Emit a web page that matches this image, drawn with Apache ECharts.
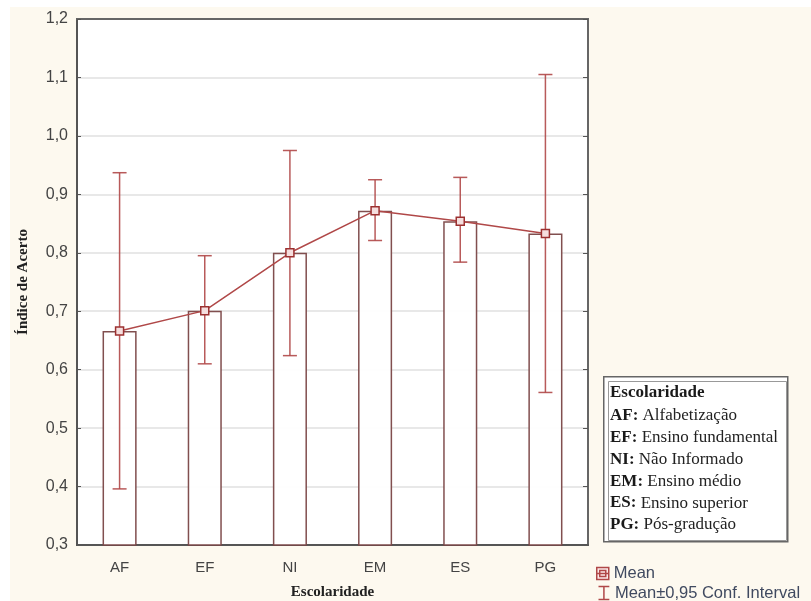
<!DOCTYPE html>
<html>
<head>
<meta charset="utf-8">
<script src="https://cdn.jsdelivr.net/npm/echarts@6/dist/echarts.min.js"></script>
<style>
  html, body { margin: 0; padding: 0; background: #ffffff; }
  #chart { width: 811px; height: 601px; }
</style>
</head>
<body>
<div id="chart"></div>
<script>
// ---- data ----
var categories = ['AF', 'EF', 'NI', 'EM', 'ES', 'PG'];
var means      = [0.666, 0.701, 0.800, 0.872, 0.854, 0.833];
var ciLow      = [0.396, 0.610, 0.624, 0.821, 0.784, 0.561];
var ciHigh     = [0.937, 0.795, 0.975, 0.925, 0.929, 1.105];
var yMin = 0.3, yMax = 1.2, yStep = 0.1;

var legendTitle = 'Escolaridade';
var legendCodes = ['AF', 'EF', 'NI', 'EM', 'ES', 'PG'];
var legendNames = ['Alfabetização', 'Ensino fundamental', 'Não Informado', 'Ensino médio', 'Ensino superior', 'Pós-gradução'];

var meanName = 'Mean';
var ciName = 'Mean±0,95 Conf. Interval';

var RED = '#b04848';
var BAR = '#7a4646';
var SERIF = '"Liberation Serif", "DejaVu Serif", serif';
var SANS = '"Liberation Sans", Arial, sans-serif';

var chart = echarts.init(document.getElementById('chart'));

var ciData = categories.map(function (c, i) {
    return [i, ciLow[i], ciHigh[i]];
});

function renderCI(params, api) {
    var x = api.value(0);
    var lo = api.coord([x, api.value(1)]);
    var hi = api.coord([x, api.value(2)]);
    var half = 7;
    var style = { stroke: RED, lineWidth: 1.5, opacity: 0.9 };
    return {
        type: 'group',
        children: [
            { type: 'line', shape: { x1: hi[0], y1: hi[1], x2: lo[0], y2: lo[1] }, style: style },
            { type: 'line', shape: { x1: hi[0] - half, y1: hi[1], x2: hi[0] + half, y2: hi[1] }, style: style },
            { type: 'line', shape: { x1: lo[0] - half, y1: lo[1], x2: lo[0] + half, y2: lo[1] }, style: style }
        ]
    };
}

// legend box text lines
var boxLines = [{
    type: 'text', left: 610, top: 384,
    style: { text: legendTitle, font: 'bold 17px ' + SERIF, fill: '#1a1a1a' }
}];
legendCodes.forEach(function (code, i) {
    boxLines.push({
        type: 'text', left: 610, top: 407 + i * 21.9,
        style: {
            text: '{b|' + code + ':} ' + legendNames[i],
            font: '17px ' + SERIF,
            fill: '#222',
            rich: { b: { font: 'bold 17px ' + SERIF, fill: '#1a1a1a' } }
        }
    });
});

var legendBase = {
    orient: 'vertical',
    left: 596,
    padding: 0,
    itemWidth: 12,
    itemHeight: 13,
    textStyle: { fontFamily: SANS, fontSize: 16.5, color: '#404a60' }
};

option = {
    backgroundColor: '#fdf9ef',
    animation: false,
    graphic: [
        { type: 'rect', left: 0, top: 0, shape: { width: 811, height: 7 }, style: { fill: '#fff' }, z: -10 },
        { type: 'rect', left: 0, top: 0, shape: { width: 10, height: 601 }, style: { fill: '#fff' }, z: -10 },
        { type: 'rect', left: 603, top: 376, shape: { width: 184, height: 165 },
          style: { fill: '#fff', stroke: '#666', lineWidth: 1.5 } },
        { type: 'rect', left: 606, top: 379, shape: { width: 178, height: 159 },
          style: { fill: 'none', stroke: '#999', lineWidth: 1 } }
    ].concat(boxLines),
    legend: [
        Object.assign({}, legendBase, {
            top: 565,
            data: [{ name: meanName, icon: 'path://M1,1H13V13H1Z M1,7H13 M4,4H10V10H4Z',
                     itemStyle: { color: '#fbe9e9', borderColor: RED, borderWidth: 1.5 } }]
        }),
        Object.assign({}, legendBase, {
            top: 584,
            data: [{ name: ciName, icon: 'path://M2,1H12M7,1V13M2,13H12',
                     itemStyle: { color: 'none', borderColor: RED, borderWidth: 1.5 } }]
        })
    ],
    grid: {
        left: 77,
        top: 19,
        right: 223,
        bottom: 56,
        outerBoundsMode: 'none',
        show: true,
        backgroundColor: '#ffffff',
        borderColor: '#6a6a6a',
        borderWidth: 2
    },
    xAxis: [
        {
            type: 'category',
            data: categories,
            name: 'Escolaridade',
            nameLocation: 'middle',
            nameGap: 40,
            nameTextStyle: { fontFamily: SERIF, fontWeight: 'bold', fontSize: 15, color: '#222' },
            axisLine: { lineStyle: { color: '#555', width: 2 } },
            axisTick: { inside: true, alignWithLabel: true, length: 4, lineStyle: { color: '#555' } },
            axisLabel: { fontFamily: SANS, fontSize: 15, color: '#444', margin: 15 }
        },
        {
            type: 'category',
            data: categories,
            position: 'top',
            axisLine: { lineStyle: { color: '#666', width: 2 } },
            axisTick: { inside: true, alignWithLabel: true, length: 5, lineStyle: { color: '#555' } },
            axisLabel: { show: false }
        }
    ],
    yAxis: [
        {
            type: 'value',
            min: yMin,
            max: yMax,
            interval: yStep,
            name: 'Índice de Acerto',
            nameLocation: 'middle',
            nameGap: 46,
            nameTextStyle: { fontFamily: SERIF, fontWeight: 'bold', fontSize: 15, color: '#222' },
            axisLine: { show: true, lineStyle: { color: '#555', width: 2 } },
            axisTick: { show: true, inside: true, length: 4, lineStyle: { color: '#555' } },
            axisLabel: {
                fontFamily: SANS, fontSize: 16, color: '#444', margin: 9,
                formatter: function (v) { return v.toFixed(1).replace('.', ','); }
            },
            splitLine: { lineStyle: { color: '#e8e8e8', width: 2 } }
        },
        {
            type: 'value',
            min: yMin,
            max: yMax,
            interval: yStep,
            position: 'right',
            axisLine: { show: true, lineStyle: { color: '#666', width: 2 } },
            axisTick: { show: true, inside: true, length: 5, lineStyle: { color: '#555' } },
            axisLabel: { show: false },
            splitLine: { show: false }
        }
    ],
    series: [
        {
            name: 'bars',
            type: 'bar',
            data: means,
            barWidth: '40%',
            silent: true,
            itemStyle: { color: '#ffffff', borderColor: BAR, borderWidth: 1.5, opacity: 0.95 },
            z: 2
        },
        {
            name: ciName,
            type: 'custom',
            data: ciData,
            renderItem: renderCI,
            itemStyle: { color: RED },
            encode: { x: 0, y: [1, 2] },
            z: 3
        },
        {
            name: meanName,
            type: 'line',
            data: means,
            symbol: 'rect',
            symbolSize: 8,
            lineStyle: { color: RED, width: 1.5 },
            itemStyle: { color: '#f5dede', borderColor: '#9c3030', borderWidth: 1.5 },
            z: 4
        }
    ]
};

chart.setOption(option);
</script>
</body>
</html>
